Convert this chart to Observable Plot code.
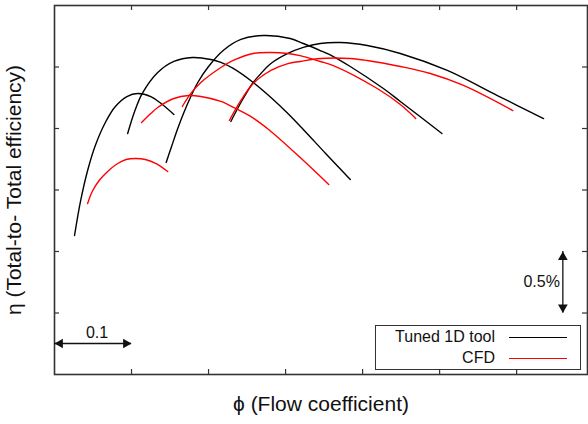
<!DOCTYPE html>
<html>
<head>
<meta charset="utf-8">
<script src="https://cdn.jsdelivr.net/npm/d3@7"></script>
<script src="https://cdn.jsdelivr.net/npm/@observablehq/plot@0.6"></script>
<style>
  html, body { margin: 0; padding: 0; background: #fff; }
  #wrap { position: relative; width: 588px; height: 424px; font-family: "Liberation Sans", Arial, sans-serif; }
  #legend { position: absolute; left: 375px; top: 325px; width: 204px; height: 43px; border: 1px solid #333; background: #fff; }
  .row { position: absolute; left: 0; width: 100%; height: 20px; }
  .row span { position: absolute; right: 85px; font-size: 16px; line-height: 20px; color: #111; white-space: nowrap; }
  .row i { position: absolute; left: 133px; width: 58px; top: 10px; height: 0; border-top: 1.4px solid; }
</style>
</head>
<body>
<div id="wrap"></div>
<script>
// Series names
const seriesNames = ["Tuned 1D tool", "CFD"];
const seriesColors = ["black", "red"];

// Tuned 1D tool curves (phi, eta in % units, 0.5% per tick)
const tuned1Phi = [0.026,0.034,0.043,0.053,0.066,0.079,0.094,0.108,0.125,0.140,0.155];
const tuned1Eta = [1.130,1.415,1.659,1.862,2.049,2.179,2.260,2.285,2.260,2.195,2.114];
const tuned2Phi = [0.095,0.104,0.114,0.134,0.155,0.179,0.203,0.216,0.232,0.258,0.281,0.303,0.323,0.352,0.384];
const tuned2Eta = [1.959,2.138,2.285,2.455,2.545,2.577,2.561,2.537,2.488,2.374,2.252,2.122,1.992,1.797,1.585];
const tuned3Phi = [0.145,0.152,0.160,0.168,0.177,0.186,0.199,0.219,0.242,0.271,0.306,0.323,0.345,0.362,0.384,0.427,0.449,0.503];
const tuned3Eta = [1.724,1.854,2.000,2.130,2.260,2.374,2.496,2.634,2.724,2.756,2.732,2.691,2.634,2.585,2.504,2.325,2.220,1.959];
const tuned4Phi = [0.229,0.235,0.245,0.257,0.268,0.281,0.303,0.323,0.345,0.371,0.406,0.449,0.510,0.575,0.635];
const tuned4Eta = [2.057,2.130,2.244,2.366,2.447,2.528,2.610,2.659,2.691,2.699,2.675,2.610,2.472,2.268,2.081];

// CFD curves
const cfd1Phi = [0.043,0.049,0.058,0.069,0.080,0.093,0.105,0.118,0.132,0.147];
const cfd1Eta = [1.390,1.488,1.577,1.650,1.707,1.748,1.756,1.748,1.715,1.650];
const cfd2Phi = [0.113,0.125,0.134,0.155,0.174,0.190,0.216,0.235,0.257,0.278,0.319,0.356];
const cfd2Eta = [2.049,2.122,2.171,2.244,2.268,2.260,2.220,2.163,2.089,1.992,1.764,1.545];
const cfd3Phi = [0.166,0.177,0.190,0.216,0.232,0.258,0.281,0.303,0.319,0.345,0.362,0.419,0.449,0.469];
const cfd3Eta = [2.179,2.285,2.374,2.496,2.553,2.610,2.618,2.610,2.593,2.545,2.512,2.325,2.195,2.081];
const cfd4Phi = [0.227,0.242,0.258,0.281,0.303,0.319,0.345,0.384,0.406,0.449,0.488,0.531,0.595];
const cfd4Eta = [2.065,2.228,2.366,2.472,2.528,2.545,2.569,2.569,2.553,2.504,2.447,2.350,2.146];

// Axis ticks (no labels shown)
const xTicks = [0.1, 0.2, 0.3, 0.4, 0.5, 0.6];
const yTicks = [0.5, 1.0, 1.5, 2.0, 2.5];
const xDomain = [0, 0.692];
const yDomain = [0, 3.0];

// Scale bars
const phiBar = [0, 0.1];     // "0.1" span
const phiBarEta = 0.252;
const etaBar = [0.5, 1.0];   // "0.5%" span
const etaBarPhi = 0.66;

const xLabel = "\u03D5 (Flow coefficient)";
const yLabel = "\u03B7 (Total-to- Total efficiency)";

const curves = [
  {id: "t1", series: seriesNames[0], phi: tuned1Phi, eta: tuned1Eta},
  {id: "t2", series: seriesNames[0], phi: tuned2Phi, eta: tuned2Eta},
  {id: "t3", series: seriesNames[0], phi: tuned3Phi, eta: tuned3Eta},
  {id: "t4", series: seriesNames[0], phi: tuned4Phi, eta: tuned4Eta},
  {id: "c1", series: seriesNames[1], phi: cfd1Phi, eta: cfd1Eta},
  {id: "c2", series: seriesNames[1], phi: cfd2Phi, eta: cfd2Eta},
  {id: "c3", series: seriesNames[1], phi: cfd3Phi, eta: cfd3Eta},
  {id: "c4", series: seriesNames[1], phi: cfd4Phi, eta: cfd4Eta}
];
const rows = curves.flatMap(c => c.phi.map((p, i) => ({id: c.id, series: c.series, phi: p, eta: c.eta[i]})));

const H = 424, W = 588, mL = 54, mR = 1, mT = 5, mB = 50;
const fw = W - mL - mR, fh = H - mT - mB, tl = 5;

const chart = Plot.plot({
  width: W, height: H,
  marginLeft: mL, marginRight: mR, marginTop: mT, marginBottom: mB,
  style: {fontFamily: "Liberation Sans, Arial, sans-serif", background: "white", overflow: "visible"},
  x: {domain: xDomain, axis: null},
  y: {domain: yDomain, axis: null},
  color: {domain: seriesNames, range: seriesColors},
  marks: [
    Plot.line(rows, {x: "phi", y: "eta", z: "id", stroke: "series", strokeWidth: 1.4, curve: "catmull-rom"}),
    // inward ticks on all four sides
    Plot.tickX(xTicks, {x: d => d, insetTop: fh - tl, stroke: "#333", strokeWidth: 1.2}),
    Plot.tickX(xTicks, {x: d => d, insetBottom: fh - tl, stroke: "#333", strokeWidth: 1.2}),
    Plot.tickY(yTicks, {y: d => d, insetRight: fw - tl, stroke: "#333", strokeWidth: 1.2}),
    Plot.tickY(yTicks, {y: d => d, insetLeft: fw - tl, stroke: "#333", strokeWidth: 1.2}),
    Plot.frame({stroke: "#333", strokeWidth: 1.6}),
    // horizontal 0.1 scale bar
    Plot.ruleY([phiBarEta], {x1: phiBar[0], x2: phiBar[1], stroke: "#111", strokeWidth: 1.3}),
    Plot.dot([phiBar[0]], {x: d => d, y: phiBarEta, symbol: "triangle", rotate: -90, r: 3.6, fill: "#111", stroke: "none", dx: 5.6}),
    Plot.dot([phiBar[1]], {x: d => d, y: phiBarEta, symbol: "triangle", rotate: 90, r: 3.6, fill: "#111", stroke: "none", dx: -5.6}),
    Plot.text(["0.1"], {x: (phiBar[0] + phiBar[1]) / 2, y: phiBarEta, text: d => d, dy: -11, dx: 4, fontSize: 16, fill: "#111"}),
    // vertical 0.5% scale bar
    Plot.ruleX([etaBarPhi], {y1: etaBar[0], y2: etaBar[1], stroke: "#111", strokeWidth: 1.3}),
    Plot.dot([etaBar[1]], {x: etaBarPhi, y: d => d, symbol: "triangle", rotate: 0, r: 3.6, fill: "#111", stroke: "none", dy: 5.6}),
    Plot.dot([etaBar[0]], {x: etaBarPhi, y: d => d, symbol: "triangle", rotate: 180, r: 3.6, fill: "#111", stroke: "none", dy: -5.6}),
    Plot.text(["0.5%"], {x: etaBarPhi, y: (etaBar[0] + etaBar[1]) / 2, text: d => d, textAnchor: "end", dx: -3, fontSize: 16, fill: "#111"}),
    // axis labels
    Plot.text([xLabel], {frameAnchor: "bottom", text: d => d, textAnchor: "middle", dy: 36, fontSize: 21, fill: "#111"}),
    Plot.text([yLabel], {frameAnchor: "left", text: d => d, textAnchor: "middle", rotate: -90, dx: -40, fontSize: 21, fill: "#111"})
  ]
});

const wrap = document.getElementById("wrap");
wrap.appendChild(chart);

const legend = document.createElement("div");
legend.id = "legend";
seriesNames.forEach((name, i) => {
  const row = document.createElement("div");
  row.className = "row";
  row.style.top = (1 + i * 21) + "px";
  const s = document.createElement("span");
  s.textContent = name;
  const line = document.createElement("i");
  line.style.borderTopColor = seriesColors[i];
  row.appendChild(s);
  row.appendChild(line);
  legend.appendChild(row);
});
wrap.appendChild(legend);
</script>
</body>
</html>
